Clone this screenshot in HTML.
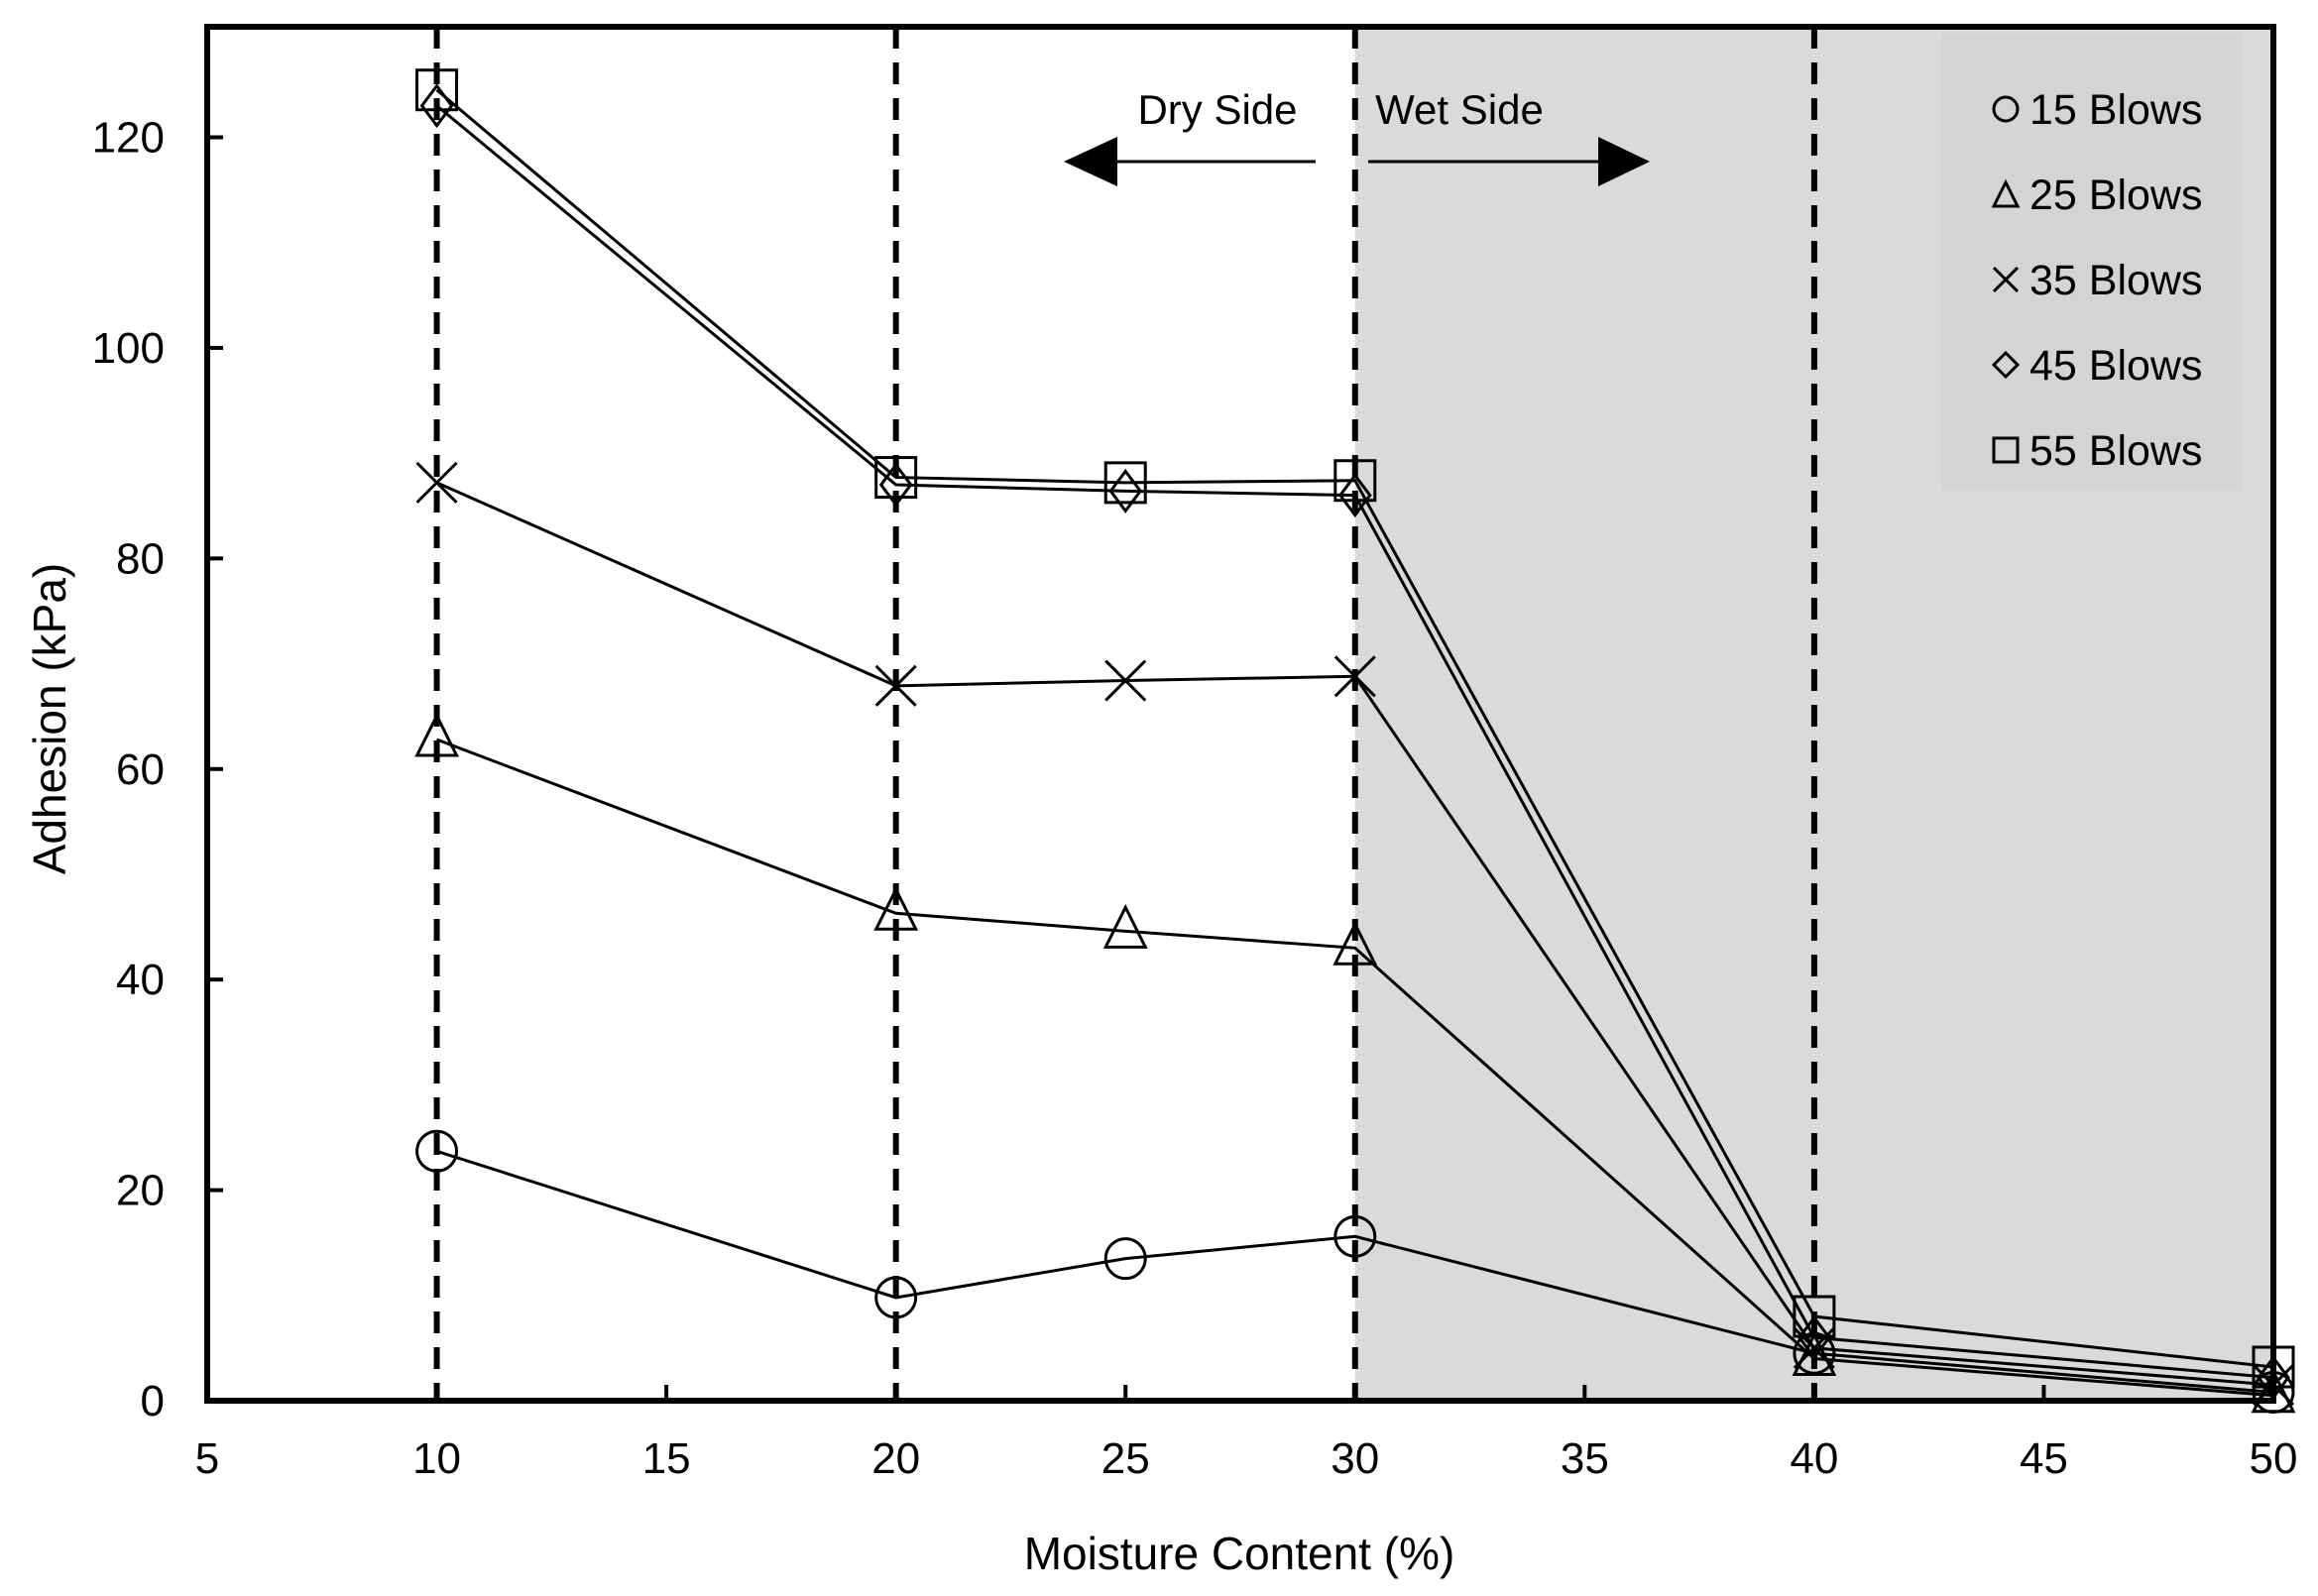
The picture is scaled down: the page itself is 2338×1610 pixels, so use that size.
<!DOCTYPE html>
<html><head><meta charset="utf-8"><style>
html,body{margin:0;padding:0;background:#fff}
svg{display:block}
text{font-family:"Liberation Sans",sans-serif;fill:#000}
</style></head><body>
<svg id="chart" width="2338" height="1610" viewBox="0 0 2338 1610" xmlns="http://www.w3.org/2000/svg"></svg>
<script>
const xCategories = [10, 20, 25, 30, 40, 50];
const blows15 = [23.7, 9.8, 13.5, 15.6, 4.5, 0.8];
const blows25 = [62.8, 46.3, 44.6, 43.0, 4.0, 0.5];
const blows35 = [87.2, 67.9, 68.4, 68.8, 5.0, 1.5];
const blows45 = [123.0, 87.0, 86.4, 86.0, 6.0, 2.2];
const blows55 = [124.5, 87.7, 87.2, 87.4, 8.0, 3.2];
const seriesNames = ["15 Blows", "25 Blows", "35 Blows", "45 Blows", "55 Blows"];
const xTicks = [5, 10, 15, 20, 25, 30, 35, 40, 45, 50];
const yTicks = [0, 20, 40, 60, 80, 100, 120];
const dashedX = [10, 20, 30, 40];

const L=209, R=2293, T=27, B=1413;
const xMin=5, xMax=50, yMin=0, yMax=130.5;
const X=v=>L+(v-xMin)/(xMax-xMin)*(R-L);
const Y=v=>B-(v-yMin)/(yMax-yMin)*(B-T);
const svg=document.getElementById('chart');
const NS='http://www.w3.org/2000/svg';
function mk(tag,attrs,parent){const e=document.createElementNS(NS,tag);for(const k in attrs)e.setAttribute(k,attrs[k]);(parent||svg).appendChild(e);return e;}

const shade=mk('rect',{x:X(30),y:T,width:R-X(30),height:B-T,fill:'#dadada'});



const lg=mk('g',{});


mk('rect',{x:1958,y:33,width:303,height:462,fill:'#d4d4d4'},lg);

dashedX.forEach(v=>{
  const d=mk('line',{x1:X(v),x2:X(v),y1:T,y2:B,stroke:'#000','stroke-width':6,'stroke-dasharray':'22 14'});
  
  
});

xTicks.forEach(v=>{
  mk('line',{x1:X(v),x2:X(v),y1:B,y2:B-16,stroke:'#000','stroke-width':4});
  const t=mk('text',{x:X(v),y:B+73,'font-size':44,'text-anchor':'middle'});
  t.textContent=v;
  
  
});
yTicks.forEach(v=>{
  mk('line',{x1:L,x2:L+16,y1:Y(v),y2:Y(v),stroke:'#000','stroke-width':4});
  const t=mk('text',{x:L-43,y:Y(v)+15,'font-size':44,'text-anchor':'end'});
  t.textContent=v;
  
  
});

const fr=mk('rect',{x:L,y:T,width:R-L,height:B-T,fill:'none',stroke:'#000','stroke-width':6});



function marker(type,cx,cy,g){
  const s=20,st={fill:'none',stroke:'#000','stroke-width':3};
  if(type===0) mk('circle',Object.assign({cx,cy,r:s},st),g);
  else if(type===1) mk('polygon',Object.assign({points:`${cx},${cy-s-4} ${cx-s},${cy+s-4} ${cx+s},${cy+s-4}`},st),g);
  else if(type===2) mk('path',Object.assign({d:`M${cx-s},${cy-s}L${cx+s},${cy+s}M${cx-s},${cy+s}L${cx+s},${cy-s}`},st),g);
  else if(type===3) mk('polygon',Object.assign({points:`${cx},${cy-s} ${cx+s*0.75},${cy} ${cx},${cy+s} ${cx-s*0.75},${cy}`},st),g);
  else mk('rect',Object.assign({x:cx-s,y:cy-s,width:2*s,height:2*s},st),g);
}
[blows15,blows25,blows35,blows45,blows55].forEach((vals,si)=>{
  const g=mk('g',{});
  
  
  const pts=vals.map((v,i)=>X(xCategories[i])+','+Y(v)).join(' ');
  mk('polyline',{points:pts,fill:'none',stroke:'#000','stroke-width':3},g);
  vals.forEach((v,i)=>marker(si,X(xCategories[i]),Y(v),g));
  const ly=110+si*86;
  const le=mk('g',{},lg);
  
  
  const s=12;const st={fill:'none',stroke:'#000','stroke-width':3};const cx=2023,cy=ly;
  if(si===0) mk('circle',Object.assign({cx,cy,r:s},st),le);
  else if(si===1) mk('polygon',Object.assign({points:`${cx},${cy-s} ${cx-s},${cy+s} ${cx+s},${cy+s}`},st),le);
  else if(si===2) mk('path',Object.assign({d:`M${cx-s},${cy-s}L${cx+s},${cy+s}M${cx-s},${cy+s}L${cx+s},${cy-s}`},st),le);
  else if(si===3) mk('polygon',Object.assign({points:`${cx},${cy-s} ${cx+s},${cy} ${cx},${cy+s} ${cx-s},${cy}`},st),le);
  else mk('rect',Object.assign({x:cx-s,y:cy-s,width:2*s,height:2*s},st),le);
  const t=mk('text',{x:2047,y:ly+15,'font-size':43},le);
  t.textContent=seriesNames[si];
});

const dry=mk('text',{x:1228,y:125,'font-size':42,'text-anchor':'middle'});
dry.textContent='Dry Side';


const wet=mk('text',{x:1472,y:125,'font-size':42,'text-anchor':'middle'});
wet.textContent='Wet Side';


const da=mk('g',{});


mk('line',{x1:1327,x2:1120,y1:163,y2:163,stroke:'#000','stroke-width':3},da);
mk('polygon',{points:'1073,163 1127,138 1127,188',fill:'#000'},da);
const wa=mk('g',{});


mk('line',{x1:1380,x2:1620,y1:163,y2:163,stroke:'#000','stroke-width':3},wa);
mk('polygon',{points:'1664,163 1612,138 1612,188',fill:'#000'},wa);

const xt=mk('text',{x:1250,y:1583,'font-size':46,'text-anchor':'middle'});
xt.textContent='Moisture Content (%)';


const yt=mk('text',{x:0,y:0,'font-size':46,'text-anchor':'middle',transform:'translate(66,725) rotate(-90)'});
yt.textContent='Adhesion  (kPa)';


</script>
</body></html>
